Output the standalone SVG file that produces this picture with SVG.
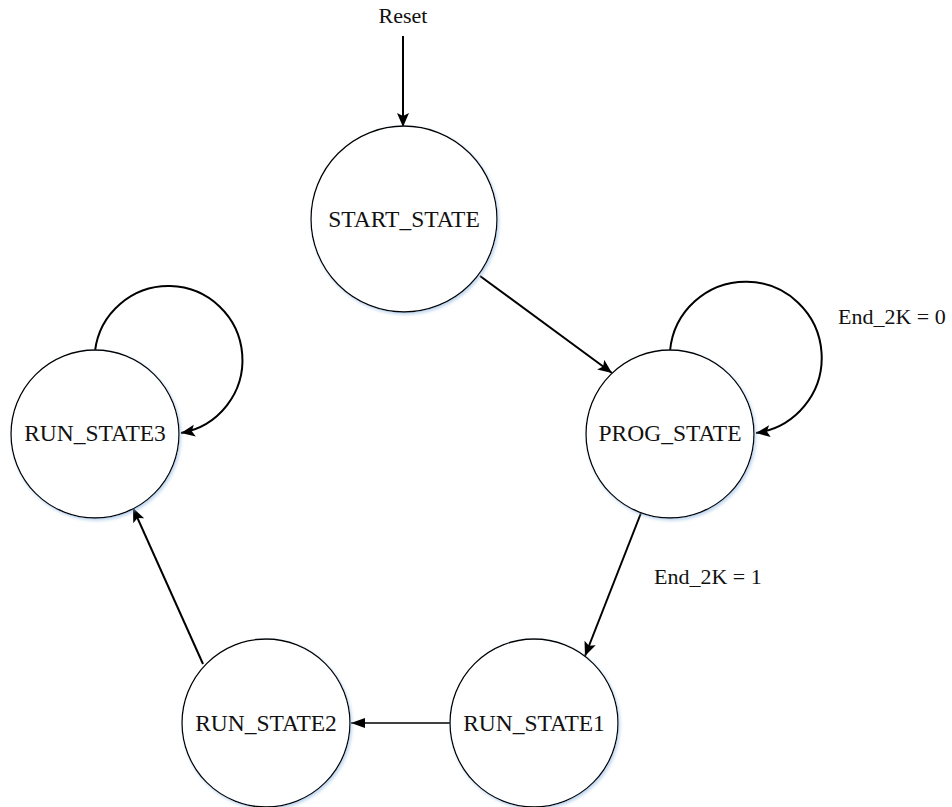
<svg xmlns="http://www.w3.org/2000/svg" width="952" height="807" viewBox="0 0 952 807">
<style>
.st{fill:#fff;stroke:#000;stroke-width:1.3;filter:url(#sh)}
.lbl{font-family:"Liberation Serif","Times New Roman",serif;font-size:22px;fill:#111}
.sl{font-size:23.5px}
.c{text-anchor:middle}
.e{fill:none;stroke:#000;stroke-width:2}
.thin{fill:none;stroke:#000;stroke-width:1.4}
</style>
<defs>
<filter id="sh" x="-10%" y="-10%" width="125%" height="125%">
<feDropShadow dx="1.5" dy="2" stdDeviation="1.5" flood-color="#8fb6e0" flood-opacity="0.55"/>
</filter>
<marker id="ah" markerUnits="userSpaceOnUse" markerWidth="16" markerHeight="14" refX="14" refY="6" orient="auto">
<path d="M0,0 L14,6 L0,12 L3,6 Z" fill="#000"/>
</marker>
<marker id="ah2" markerUnits="userSpaceOnUse" markerWidth="16" markerHeight="12" refX="14" refY="5" orient="auto">
<path d="M0,0 L14,5 L0,10 Z" fill="#000"/>
</marker>
</defs>
<rect width="952" height="807" fill="#fff"/>
<g id="connectors">
<line class="e" x1="403" y1="36" x2="403" y2="127" marker-end="url(#ah)"/>
<line class="e" x1="480" y1="276" x2="612" y2="373" marker-end="url(#ah)"/>
<path class="e" d="M670,351 A76,76 0 1 1 756,433" marker-end="url(#ah)"/>
<line class="e" x1="641" y1="513" x2="585" y2="656" marker-end="url(#ah)"/>
<line class="thin" x1="450" y1="723" x2="351" y2="723" marker-end="url(#ah2)"/>
<line class="e" x1="203" y1="664" x2="133" y2="508" marker-end="url(#ah)"/>
<path class="e" d="M95,351 A74,74 0 1 1 181,433" marker-end="url(#ah)"/>
<text class="lbl c" x="403" y="23">Reset</text>
<text class="lbl" x="838" y="324">End_2K = 0</text>
<text class="lbl" x="654" y="584">End_2K = 1</text>
</g>
<g id="start_state">
<circle class="st" cx="404" cy="219" r="93"/>
<text class="lbl sl c" x="404" y="227">START_STATE</text>
</g>
<g id="prog_state">
<circle class="st" cx="670" cy="434" r="84"/>
<text class="lbl sl c" x="670" y="441">PROG_STATE</text>
</g>
<g id="run_state1">
<circle class="st" cx="534" cy="723" r="84"/>
<text class="lbl sl c" x="534" y="731">RUN_STATE1</text>
</g>
<g id="run_state2">
<circle class="st" cx="266" cy="723" r="84"/>
<text class="lbl sl c" x="266" y="731">RUN_STATE2</text>
</g>
<g id="run_state3">
<circle class="st" cx="95" cy="434" r="84"/>
<text class="lbl sl c" x="95" y="441">RUN_STATE3</text>
</g>
</svg>
